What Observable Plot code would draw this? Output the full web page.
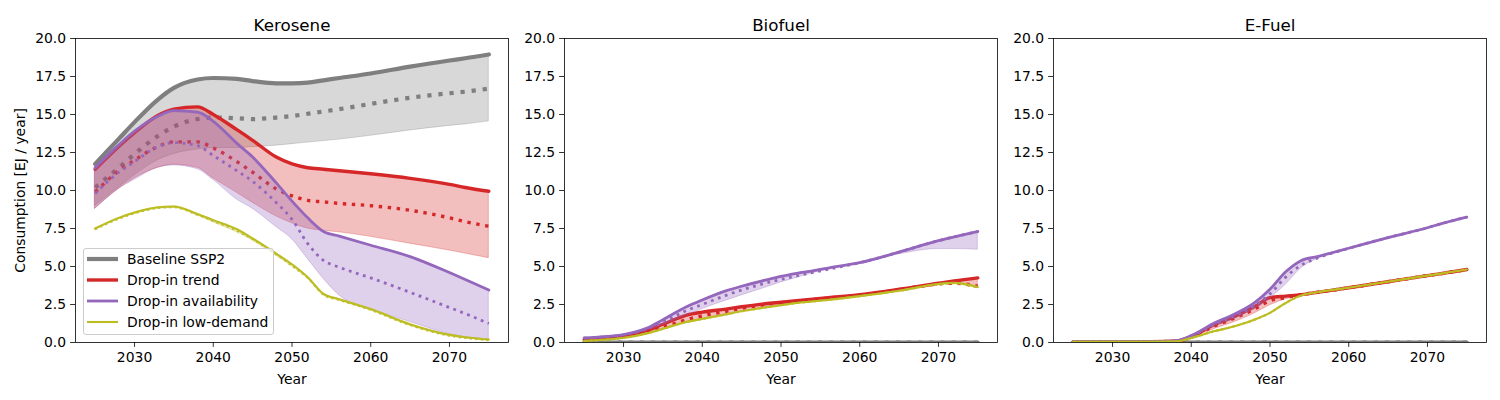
<!DOCTYPE html>
<html>
<head>
<meta charset="utf-8">
<script src="https://cdn.jsdelivr.net/npm/d3@7"></script>
<script src="https://cdn.jsdelivr.net/npm/@observablehq/plot@0.6"></script>
<style>
  html, body { margin: 0; padding: 0; background: white; }
  #root { position: relative; width: 1500px; height: 400px; font-family: "DejaVu Sans", sans-serif; }
  #root svg { position: absolute; top: 0; }
  #legend { position: absolute; box-sizing: border-box; border: 1px solid #cccccc; border-radius: 3px; background: rgba(255,255,255,0.8); }
</style>
</head>
<body>
<div id="root"></div>
<script>
// ---------- data ----------
const years = [2025,2028,2030,2033,2035,2038,2040,2043,2045,2048,2050,2052,2054,2056,2060,2065,2070,2072,2075];
const panels = ["Kerosene", "Biofuel", "E-Fuel"];
const scenarios = ["Baseline SSP2", "Drop-in trend", "Drop-in availability", "Drop-in low-demand"];
const xTicks = [2030, 2040, 2050, 2060, 2070];
const yTicks = [0, 2.5, 5, 7.5, 10, 12.5, 15, 17.5, 20];

// Kerosene
const keroBaseHi  = [11.75,13.4,14.5,16.0,16.75,17.3,17.4,17.35,17.2,17.05,17.05,17.1,17.25,17.4,17.7,18.15,18.55,18.7,18.95];
const keroBaseMed = [10.2,11.5,12.4,13.6,14.2,14.7,14.8,14.75,14.7,14.8,14.9,15.05,15.2,15.35,15.7,16.1,16.4,16.5,16.7];
const keroBaseLo  = [9.0,10.2,11.0,12.0,12.4,12.7,12.8,12.8,12.85,12.95,13.05,13.15,13.25,13.35,13.6,13.95,14.25,14.35,14.55];
const keroTrendHi  = [11.4,12.9,13.8,14.95,15.35,15.5,15.0,14.0,13.3,12.2,11.75,11.5,11.4,11.3,11.1,10.8,10.4,10.2,9.95];
const keroTrendMed = [9.9,11.3,12.0,12.9,13.2,13.2,12.8,11.9,11.2,10.1,9.65,9.35,9.25,9.15,9.0,8.7,8.2,7.95,7.65];
const keroTrendLo  = [8.8,10.1,10.8,11.5,11.7,11.5,10.8,9.85,9.2,8.3,7.85,7.5,7.35,7.25,6.95,6.5,6.05,5.85,5.55];
const keroAvailHi  = [11.5,13.0,13.9,14.9,15.25,15.15,14.55,13.1,12.2,10.5,9.3,8.2,7.3,7.0,6.4,5.65,4.6,4.15,3.45];
const keroAvailMed = [9.8,11.2,11.9,12.9,13.15,12.95,12.3,11.3,10.6,9.2,8.1,6.5,5.4,4.95,4.25,3.3,2.3,1.9,1.25];
const keroAvailLo  = [8.8,10.1,10.7,11.5,11.65,11.4,10.7,9.4,8.8,7.6,6.8,5.5,4.2,3.1,2.2,1.35,0.55,0.35,0.2];
const keroLowHi  = [7.5,8.2,8.55,8.9,8.95,8.45,8.05,7.45,6.85,5.85,5.15,4.3,3.2,2.85,2.2,1.2,0.5,0.35,0.2];
const keroLowMed = [7.45,8.15,8.5,8.85,8.9,8.4,8.0,7.35,6.8,5.8,5.05,4.25,3.15,2.8,2.15,1.15,0.45,0.3,0.15];
const keroLowLo  = [7.4,8.1,8.45,8.8,8.85,8.35,7.9,7.25,6.7,5.7,5.0,4.2,3.1,2.75,2.1,1.1,0.42,0.28,0.13];

// Biofuel
const bioBaseHi  = [0,0,0,0,0,0,0,0,0,0,0,0,0,0,0,0,0,0,0];
const bioBaseMed = [0,0,0,0,0,0,0,0,0,0,0,0,0,0,0,0,0,0,0];
const bioBaseLo  = [0,0,0,0,0,0,0,0,0,0,0,0,0,0,0,0,0,0,0];
const bioTrendHi  = [0.2,0.3,0.42,0.8,1.2,1.8,2.0,2.2,2.35,2.55,2.65,2.75,2.85,2.95,3.15,3.5,3.9,4.05,4.25];
const bioTrendMed = [0.2,0.28,0.38,0.7,1.0,1.5,1.75,2.05,2.25,2.5,2.62,2.72,2.82,2.92,3.12,3.47,3.85,3.9,3.7];
const bioTrendLo  = [0.1,0.2,0.3,0.6,0.9,1.35,1.55,1.85,2.05,2.3,2.45,2.6,2.7,2.8,3.05,3.4,3.85,3.92,3.65];
const bioAvailHi  = [0.3,0.4,0.52,0.95,1.5,2.35,2.8,3.4,3.7,4.1,4.35,4.55,4.72,4.9,5.25,5.95,6.7,6.95,7.3];
const bioAvailMed = [0.28,0.38,0.5,0.9,1.35,2.1,2.5,3.1,3.45,3.9,4.15,4.38,4.6,4.82,5.25,5.95,6.7,6.95,7.3];
const bioAvailLo  = [0.25,0.35,0.45,0.8,1.15,1.8,2.2,2.75,3.1,3.6,3.95,4.25,4.55,4.8,5.2,5.8,6.15,6.15,6.1];
const bioLowHi  = [0.1,0.2,0.3,0.6,0.9,1.35,1.55,1.85,2.05,2.3,2.45,2.6,2.7,2.8,3.05,3.4,3.85,3.92,3.65];
const bioLowMed = [0.1,0.2,0.3,0.6,0.9,1.35,1.55,1.85,2.05,2.3,2.45,2.6,2.7,2.8,3.05,3.4,3.82,3.9,3.6];
const bioLowLo  = [0.1,0.2,0.3,0.6,0.9,1.35,1.55,1.85,2.05,2.3,2.45,2.6,2.7,2.8,3.05,3.4,3.8,3.85,3.55];

// E-Fuel
const efBaseHi  = [0,0,0,0,0,0,0,0,0,0,0,0,0,0,0,0,0,0,0];
const efBaseMed = [0,0,0,0,0,0,0,0,0,0,0,0,0,0,0,0,0,0,0];
const efBaseLo  = [0,0,0,0,0,0,0,0,0,0,0,0,0,0,0,0,0,0,0];
const efTrendHi  = [0.05,0.05,0.05,0.05,0.05,0.08,0.4,1.2,1.6,2.35,2.95,3.05,3.15,3.3,3.6,4.0,4.4,4.55,4.8];
const efTrendMed = [0.05,0.05,0.05,0.05,0.05,0.08,0.35,1.1,1.5,2.2,2.75,2.95,3.15,3.3,3.6,4.0,4.4,4.55,4.8];
const efTrendLo  = [0.05,0.05,0.05,0.05,0.05,0.08,0.3,0.9,1.25,1.9,2.45,2.85,3.1,3.3,3.6,4.0,4.4,4.55,4.8];
const efAvailHi  = [0.05,0.05,0.05,0.05,0.05,0.1,0.45,1.3,1.75,2.6,3.5,4.65,5.4,5.65,6.2,6.9,7.55,7.85,8.25];
const efAvailMed = [0.05,0.05,0.05,0.05,0.05,0.1,0.4,1.2,1.65,2.4,3.2,4.3,5.1,5.55,6.2,6.9,7.55,7.85,8.25];
const efAvailLo  = [0.05,0.05,0.05,0.05,0.05,0.08,0.35,1.1,1.45,2.2,2.9,3.8,4.9,5.5,6.2,6.9,7.55,7.85,8.25];
const efLowHi  = [0.05,0.05,0.05,0.05,0.05,0.06,0.3,0.75,1.0,1.5,1.95,2.6,3.1,3.3,3.6,4.0,4.4,4.55,4.8];
const efLowMed = [0.05,0.05,0.05,0.05,0.05,0.06,0.3,0.75,1.0,1.5,1.95,2.6,3.1,3.3,3.6,4.0,4.4,4.55,4.8];
const efLowLo  = [0.05,0.05,0.05,0.05,0.05,0.06,0.28,0.72,0.97,1.45,1.9,2.55,3.08,3.3,3.6,4.0,4.4,4.55,4.8];

// ---------- styles ----------
const colors = ["#7f7f7f", "#d62728", "#9467bd", "#bcbd22"];
const widths = [4.2, 3.4, 2.8, 2.1];

const series = [
  [[keroBaseHi, keroBaseMed, keroBaseLo], [keroTrendHi, keroTrendMed, keroTrendLo], [keroAvailHi, keroAvailMed, keroAvailLo], [keroLowHi, keroLowMed, keroLowLo]],
  [[bioBaseHi, bioBaseMed, bioBaseLo], [bioTrendHi, bioTrendMed, bioTrendLo], [bioAvailHi, bioAvailMed, bioAvailLo], [bioLowHi, bioLowMed, bioLowLo]],
  [[efBaseHi, efBaseMed, efBaseLo], [efTrendHi, efTrendMed, efTrendLo], [efAvailHi, efAvailMed, efAvailLo], [efLowHi, efLowMed, efLowLo]]
];

const rows = [];
panels.forEach((p, pi) => scenarios.forEach((s, si) => {
  const [hi, med, lo] = series[pi][si];
  years.forEach((yr, i) => rows.push({panel: p, scen: s, year: yr, hi: hi[i], med: med[i], lo: lo[i]}));
}));

const root = document.getElementById("root");
const plotW = 433;
const layout = [{left: 0, ml: 75}, {left: 514, ml: 50}, {left: 1003, ml: 50}];
const curve = "monotone-x";

panels.forEach((p, pi) => {
  const marks = [];
  scenarios.forEach((s, si) => {
    const d = rows.filter(r => r.panel === p && r.scen === s);
    const c = colors[si], w = widths[si];
    marks.push(Plot.areaY(d, {x: "year", y1: "lo", y2: "hi", fill: c, fillOpacity: 0.3, stroke: c, strokeOpacity: 0.3, strokeWidth: 1, curve, clip: true}));
    marks.push(Plot.lineY(d, {x: "year", y: "med", stroke: c, strokeWidth: w, strokeDasharray: `${w},${(1.65*w).toFixed(2)}`, strokeLinecap: "butt", curve, clip: true}));
    marks.push(Plot.lineY(d, {x: "year", y: "hi", stroke: c, strokeWidth: w, curve, clip: true}));
  });
  marks.push(Plot.frame({stroke: "black", strokeWidth: 0.8}));
  marks.push(Plot.axisY({ticks: yTicks, tickFormat: d3.format(".1f"), tickSize: 4.9, tickPadding: 4.5,
    label: pi === 0 ? "Consumption [EJ / year]" : null, labelAnchor: "center", labelOffset: 60, labelArrow: "none", strokeWidth: 0.8}));
  marks.push(Plot.axisX({ticks: xTicks, tickFormat: d => String(d), tickSize: 4.9, tickPadding: 5,
    label: "Year", labelAnchor: "center", labelOffset: 41, labelArrow: "none", strokeWidth: 0.8}));
  marks.push(Plot.text([p], {text: d => d, frameAnchor: "top", lineAnchor: "bottom", dy: -8, fontSize: 16.7}));

  const L = layout[pi];
  const svg = Plot.plot({
    width: L.ml + plotW + 5,
    height: 400,
    marginLeft: L.ml, marginRight: 5, marginTop: 38, marginBottom: 58,
    x: {domain: [2022.5, 2077.5]},
    y: {domain: [0, 20]},
    style: {fontFamily: "DejaVu Sans", fontSize: "13.9px", color: "black", background: "transparent", overflow: "visible"},
    marks
  });
  svg.style.left = L.left + "px";
  root.appendChild(svg);
});

// ---------- legend ----------
const leg = document.createElement("div");
leg.id = "legend";
leg.style.left = "82.5px"; leg.style.top = "247.5px"; leg.style.width = "191px"; leg.style.height = "87px";
root.appendChild(leg);
const ls = d3.select(leg).append("svg").attr("width", 189).attr("height", 85).style("position", "absolute").style("left", "0px").style("top", "0px");
scenarios.forEach((s, i) => {
  const cy = 10 + i * 21;
  ls.append("line").attr("x1", 3).attr("x2", 34).attr("y1", cy).attr("y2", cy)
    .attr("stroke", colors[i]).attr("stroke-width", widths[i]);
  ls.append("text").attr("x", 43).attr("y", cy).attr("dy", "0.36em")
    .attr("font-family", "DejaVu Sans").attr("font-size", "13.9px").attr("fill", "black").text(s);
});
</script>
</body>
</html>
